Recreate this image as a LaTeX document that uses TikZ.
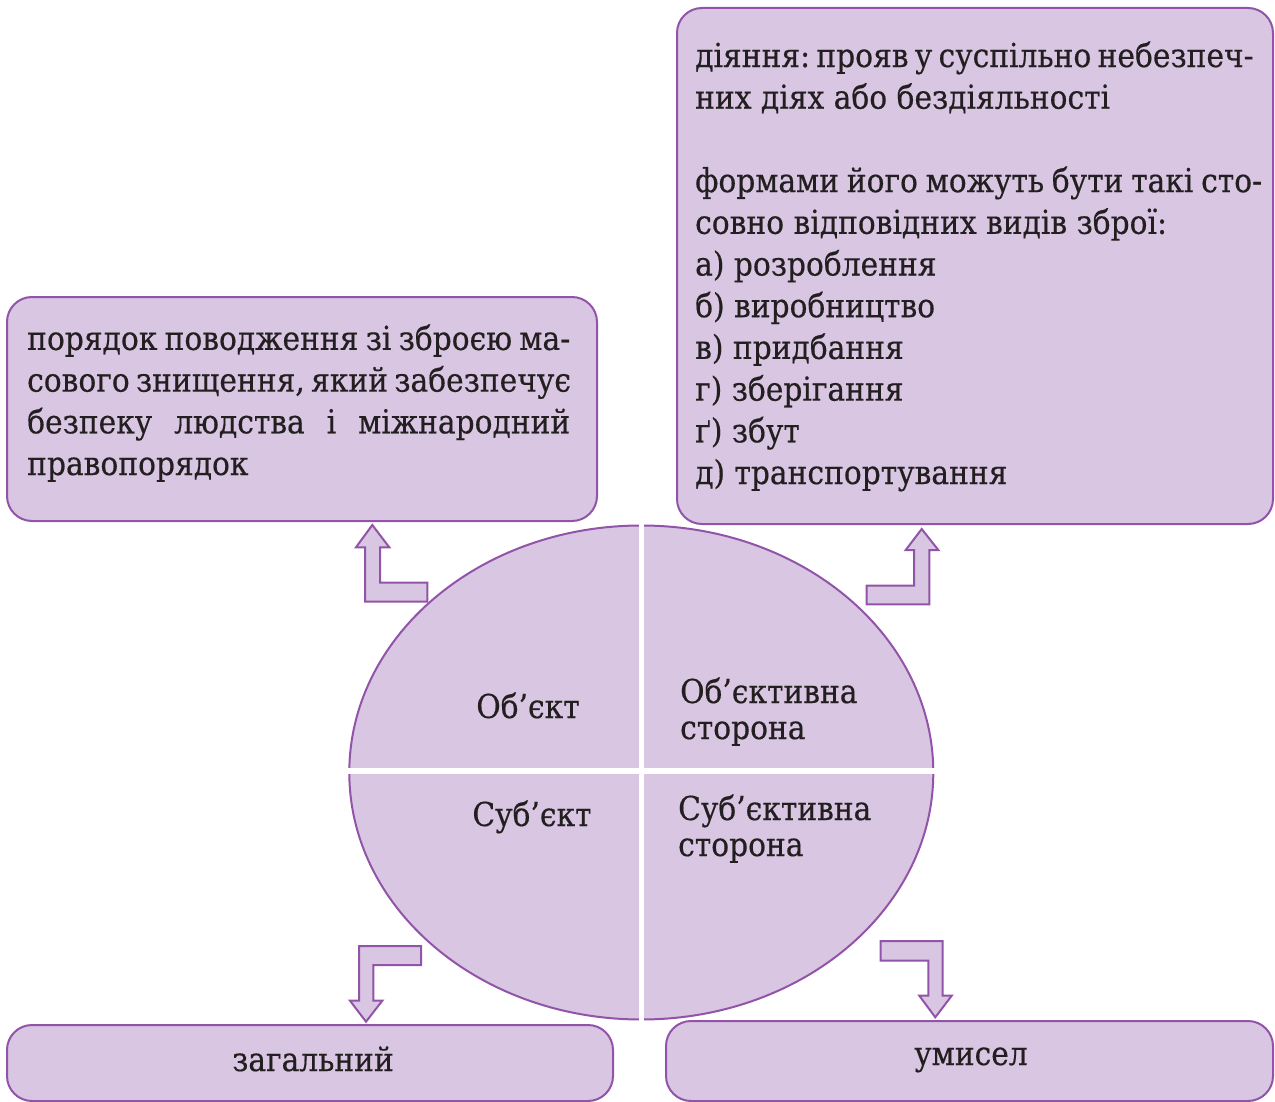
\documentclass[tikz,border=0pt]{standalone}
\usepackage{fontspec}
\setmainfont[FakeStretch=0.9,FakeBold=0.4]{DejaVu Serif}
\usetikzlibrary{shapes.geometric}
\definecolor{lav}{RGB}{216,198,226}
\definecolor{pur}{RGB}{146,84,168}
\definecolor{ink}{RGB}{35,31,32}
\newcommand{\jl}[2]{\makebox[#1pt][s]{#2}}
\frenchspacing
\begin{document}
\begin{tikzpicture}[x=1pt,y=-1pt,
  box/.style={rectangle, draw=pur, fill=lav, line width=2pt, rounded corners=25pt, inner sep=0pt},
  blockarrow/.style={draw=pur, fill=lav, line width=2pt, line join=miter},
  txt/.style={text=ink, inner sep=0pt, font=\frenchspacing\fontsize{33}{41.7}\selectfont, align=left, anchor=base west},
  lbl/.style={text=ink, inner sep=0pt, font=\fontsize{33}{36}\selectfont, align=left}]
\useasboundingbox (0,0) rectangle (1275,1102);
% boxes
\node[box, minimum width=590pt, minimum height=224pt] (objbox) at (302,409) {};
\node[box, minimum width=596pt, minimum height=516pt] (sidebox) at (975,266) {};
\node[box, minimum width=606pt, minimum height=76pt] (subjbox) at (310,1063) {};
\node[box, minimum width=607pt, minimum height=80pt] (sidesubjbox) at (969.5,1061) {};
% ellipse
\node[ellipse, draw=pur, fill=lav, line width=2pt, minimum width=584pt, minimum height=494pt, inner sep=0pt] (circ) at (641.3,772.5) {};
\fill[white] (639.1,515) rectangle (644.1,1030);
\fill[white] (340,768.3) rectangle (945,773.7);
% block arrows
\draw[blockarrow] (372.3,525) -- (389.3,547.3) -- (380,547.3) -- (380,582.7) -- (427.3,582.7) -- (427.3,601.7) -- (365,601.7) -- (365,547.3) -- (356,547.3) -- cycle;
\draw[blockarrow] (921.7,529) -- (938.3,550) -- (929.3,550) -- (929.3,604.3) -- (866.7,604.3) -- (866.7,585.7) -- (914,585.7) -- (914,550) -- (905.7,550) -- cycle;
\draw[blockarrow] (421,946) -- (421,965) -- (373.3,965) -- (373.3,1000.7) -- (382.3,1000.7) -- (366,1021.7) -- (350,1000.7) -- (359,1000.7) -- (359,946) -- cycle;
\draw[blockarrow] (880.7,941) -- (942.7,941) -- (942.7,995.7) -- (951.7,995.7) -- (935.3,1017.3) -- (919.3,995.7) -- (928.3,995.7) -- (928.3,960.7) -- (880.7,960.7) -- cycle;
% texts (base anchor = baseline of last line)
\node[txt] (objtext) at (27,475) {\jl{543}{порядок поводження зі зброєю ма-}\\\jl{543}{сового знищення, який забезпечує}\\\jl{543}{безпеку людства і міжнародний}\\правопорядок};
\node[txt] (sidetext) at (695,484) {\jl{557}{діяння: прояв у суспільно небезпеч-}\\них діях або бездіяльності\\[41.7pt]\jl{567}{формами його можуть бути такі сто-}\\совно відповідних видів зброї:\\а) розроблення\\б) виробництво\\в) придбання\\г) зберігання\\ґ) збут\\д) транспортування};
\node[lbl, anchor=base] (q1) at (528,718) {Об’єкт};
\node[lbl, anchor=base west] (q2) at (680,739) {Об’єктивна\\сторона};
\node[lbl, anchor=base] (q3) at (532,826) {Суб’єкт};
\node[lbl, anchor=base west] (q4) at (678,856) {Суб’єктивна\\сторона};
\node[lbl, anchor=base] (subjtext) at (313,1071) {загальний};
\node[lbl, anchor=base] (sidesubjtext) at (971,1065) {умисел};
\end{tikzpicture}
\end{document}
